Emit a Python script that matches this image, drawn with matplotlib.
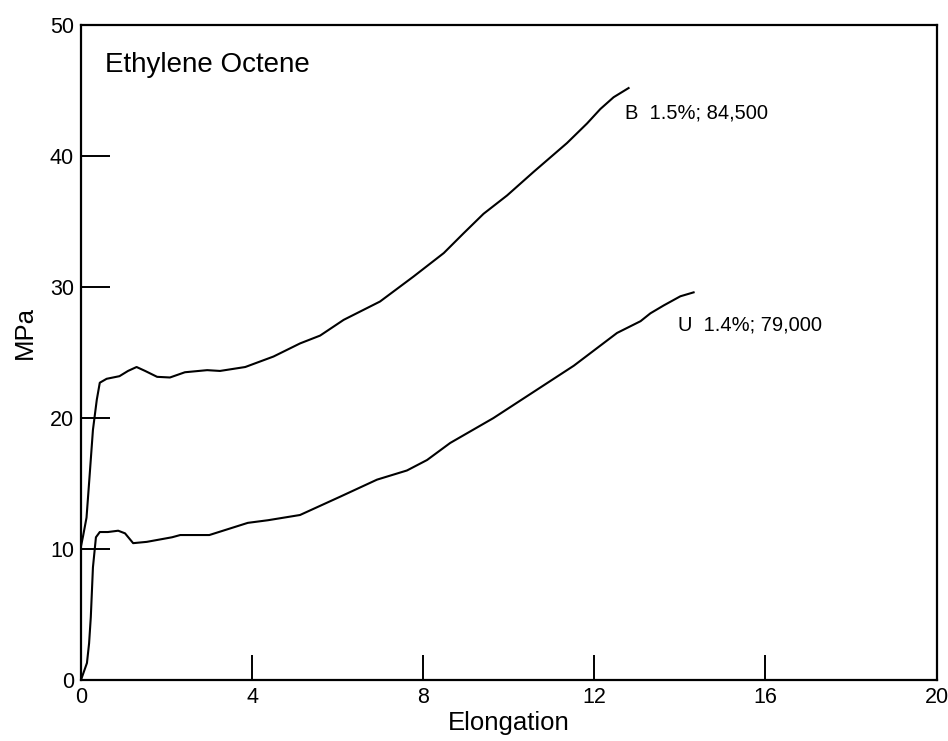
import matplotlib.pyplot as plt

plt.rcParams['font.family'] = ['Liberation Sans', 'DejaVu Sans']

# curve B (1.5%; 84,500)
b_x = [0, 0.05, 0.13, 0.2, 0.28, 0.37, 0.44, 0.6, 0.9, 1.1, 1.3, 1.5, 1.78, 2.08,
       2.43, 2.95, 3.25, 3.84, 4.5, 5.12, 5.59, 6.14, 6.99, 7.77, 8.48, 8.94, 9.41,
       9.96, 10.58, 11.36, 11.83, 12.14, 12.45, 12.8]
b_y = [10.2, 11.0, 12.4, 15.5, 19.1, 21.4, 22.7, 23.0, 23.2, 23.6, 23.9, 23.6, 23.15, 23.1,
       23.5, 23.66, 23.6, 23.9, 24.7, 25.7, 26.3, 27.5, 28.9, 30.8, 32.6, 34.1, 35.6,
       37.0, 38.8, 41.0, 42.5, 43.6, 44.5, 45.2]

# curve U (1.4%; 79,000)
u_x = [0, 0.14, 0.19, 0.23, 0.28, 0.35, 0.44, 0.63, 0.87, 1.03, 1.22, 1.54, 2.13, 2.32,
       3.0, 3.9, 4.37, 5.12, 6.06, 6.92, 7.62, 8.09, 8.63, 9.64, 10.58, 11.52, 12.53,
       13.08, 13.31, 13.62, 14.01, 14.32]
u_y = [0, 1.3, 2.8, 4.8, 8.6, 10.9, 11.3, 11.3, 11.4, 11.2, 10.45, 10.55, 10.9, 11.07,
       11.07, 12.0, 12.2, 12.6, 14.0, 15.3, 16.0, 16.8, 18.1, 20.0, 22.0, 24.0, 26.5,
       27.4, 28.0, 28.6, 29.3, 29.6]

x_ticks = [0, 4, 8, 12, 16, 20]
y_ticks = [0, 10, 20, 30, 40, 50]

fig = plt.figure(figsize=(9.48, 7.41), dpi=100)
ax = fig.add_axes([0.0854, 0.0823, 0.9026, 0.8837])

ax.plot(b_x, b_y, color='black', lw=1.5)
ax.plot(u_x, u_y, color='black', lw=1.5)

ax.set_xlim(0, 20)
ax.set_ylim(0, 50)
ax.set_xticks(x_ticks)
ax.set_yticks(y_ticks)
ax.tick_params(direction='in', width=1.4, labelsize=15.5, pad=5)
ax.tick_params(axis='y', length=21)
ax.tick_params(axis='x', length=18)
# no tick marks drawn at the frame corners
for t in ax.xaxis.get_major_ticks()[::5] + ax.yaxis.get_major_ticks()[::5]:
    t.tick1line.set_visible(False)
for s in ax.spines.values():
    s.set_linewidth(1.6)

ax.set_xlabel('Elongation', fontsize=18.5)
ax.xaxis.set_label_coords(0.5, -0.048)
ax.xaxis.label.set_va('top')
ax.set_ylabel('MPa', fontsize=18.5)
ax.yaxis.set_label_coords(-0.052, 0.53)

ax.text(0.56, 46.4, 'Ethylene Octene', fontsize=20, va='baseline')
ax.text(12.72, 42.9, 'B  1.5%; 84,500', fontsize=14.5, va='baseline')
ax.text(13.96, 26.7, 'U  1.4%; 79,000', fontsize=14.5, va='baseline')

fig.savefig('out.png', dpi=100)
